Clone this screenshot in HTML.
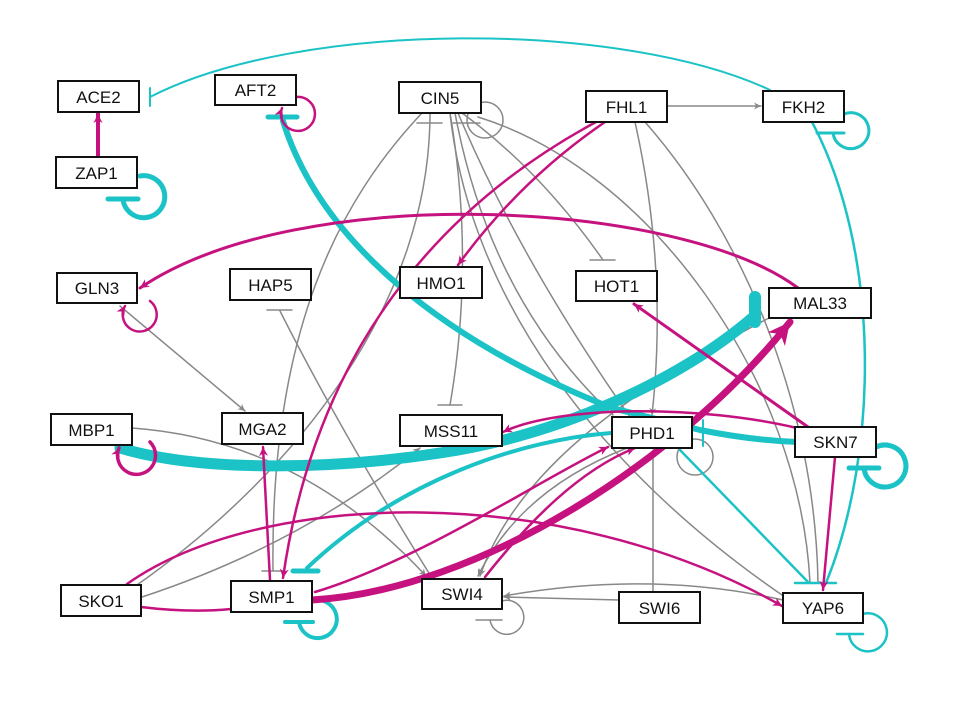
<!DOCTYPE html>
<html><head><meta charset="utf-8"><style>
html,body{margin:0;padding:0;background:#fff;}
svg{display:block;}
text{font-family:"Liberation Sans",Arial,sans-serif;font-size:17px;fill:#111;}
</style></head><body>
<svg width="960" height="720" viewBox="0 0 960 720" xmlns="http://www.w3.org/2000/svg">
<defs>
<marker id="ag" viewBox="0 0 10 10" refX="10" refY="5" markerWidth="10" markerHeight="7" markerUnits="userSpaceOnUse" orient="auto"><path d="M0,0 L10,5 L0,10 L3,5z" fill="#888"/></marker>
<marker id="am" viewBox="0 0 10 10" refX="10" refY="5" markerWidth="12" markerHeight="9" markerUnits="userSpaceOnUse" orient="auto"><path d="M0,0 L10,5 L0,10 L3,5z" fill="#c5127f"/></marker>
<marker id="amb" viewBox="0 0 10 10" refX="10" refY="5" markerWidth="26" markerHeight="22" markerUnits="userSpaceOnUse" orient="auto"><path d="M0,0 L10,5 L0,10 L3,5z" fill="#c5127f"/></marker>
</defs>
<g fill="none" stroke-linecap="round">
<!-- gray edges -->
<g stroke="#888" stroke-width="1.5">
<path d="M667,106 L761,106" marker-end="url(#ag)"/>
<circle cx="485" cy="120" r="18"/>
<circle cx="695" cy="457" r="18"/>
<path d="M120,306 L245,411" marker-end="url(#ag)"/>
<path d="M432,578 Q340,430 280,311"/>
<line x1="267" y1="310" x2="292" y2="310"/>
<path d="M132,428 Q300,440 426,576" marker-end="url(#ag)"/>
<path d="M422,113 C340,200 270,330 273,571"/>
<line x1="262" y1="571" x2="284" y2="571"/>
<path d="M430,113 C430,300 300,470 137,585"/>
<path d="M450,113 Q475,260 450,405"/>
<line x1="438" y1="405" x2="462" y2="405"/>
<path d="M462,113 Q540,170 603,260"/>
<line x1="590" y1="260" x2="615" y2="260"/>
<path d="M455,113 Q490,300 613,415"/>
<path d="M458,113 Q520,260 630,417"/>
<path d="M450,113 C470,300 600,470 782,595"/>
<path d="M478,117 C650,170 800,380 810,583"/>
<path d="M635,122 Q668,270 652,415" marker-end="url(#ag)"/>
<path d="M645,122 C740,230 815,400 818,583"/>
<line x1="417" y1="123" x2="442" y2="123"/>
<line x1="453" y1="123" x2="480" y2="123"/>
<path d="M769,318 C650,380 520,460 480,576" marker-end="url(#ag)"/>
<path d="M627,448 Q520,490 478,576" marker-end="url(#ag)"/>
<path d="M653,592 L653,450" marker-end="url(#ag)"/>
<path d="M619,600 L504,597" marker-end="url(#ag)"/>
<path d="M783,600 Q650,570 504,596" marker-end="url(#ag)"/>
<path d="M502,601 A17,17 0 1 1 490,620"/>
<line x1="476" y1="620" x2="502" y2="620"/>
<path d="M142,597 Q300,545 420,448" marker-end="url(#ag)"/>
</g>
<!-- cyan edges -->
<g stroke="#1cc3c6">
<path d="M770,90 C620,20 300,20 150,97" stroke-width="2"/>
<line x1="150" y1="88" x2="150" y2="106" stroke-width="2"/>
<path d="M812,122 C880,250 880,450 826,583" stroke-width="2.5"/>
<path d="M680,450 L808,582" stroke-width="2.5"/>
<line x1="795" y1="583" x2="836" y2="583" stroke-width="2.5"/>
<path d="M844,114 A18,18 0 1 1 833,133" stroke-width="3"/>
<line x1="817" y1="133" x2="844" y2="133" stroke-width="3"/>
<path d="M140,176 A21,21 0 1 1 123,200" stroke-width="5"/>
<line x1="108" y1="199" x2="138" y2="199" stroke-width="5"/>
<path d="M283,121 C320,240 440,340 612,408 L700,430 C740,438 770,441 797,442" stroke-width="6"/>
<line x1="268" y1="117" x2="297" y2="117" stroke-width="5"/>
<line x1="703" y1="420" x2="703" y2="446" stroke-width="2"/>
<path d="M120,448 C200,472 330,470 440,453 C560,435 680,380 752,318" stroke-width="11"/>
<line x1="755" y1="297" x2="755" y2="322" stroke-width="12"/>
<path d="M611,433 C520,440 400,480 307,568" stroke-width="4"/>
<line x1="293" y1="571" x2="318" y2="571" stroke-width="5"/>
<path d="M312,601 A19,19 0 1 1 299,622" stroke-width="4"/>
<line x1="285" y1="622" x2="313" y2="622" stroke-width="4"/>
<path d="M876,447 A21,21 0 1 1 864,468" stroke-width="5"/>
<line x1="849" y1="468" x2="879" y2="468" stroke-width="5"/>
<path d="M863,614 A19,19 0 1 1 849,634" stroke-width="2.5"/>
<line x1="837" y1="634" x2="863" y2="634" stroke-width="2.5"/>
</g>
<!-- magenta edges -->
<g stroke="#c5127f">
<path d="M98,157 L98,114" stroke-width="4" marker-end="url(#am)"/>
<path d="M296,97 A17,17 0 1 1 282,108" stroke-width="2.5" marker-end="url(#am)"/>
<path d="M798,288 C680,200 300,180 140,288" stroke-width="3" marker-end="url(#am)"/>
<path d="M150,301 A17,17 0 1 1 125,306" stroke-width="2.5" marker-end="url(#am)"/>
<path d="M150,442 A19,19 0 1 1 119,448" stroke-width="3.5" marker-end="url(#am)"/>
<path d="M605,122 Q520,180 458,265" stroke-width="2.5" marker-end="url(#am)"/>
<path d="M596,122 C470,190 320,320 283,578" stroke-width="2.5" marker-end="url(#am)"/>
<path d="M270,580 L263,447" stroke-width="2.5" marker-end="url(#am)"/>
<path d="M127,584 C260,490 560,480 782,606" stroke-width="2.5" marker-end="url(#am)"/>
<path d="M141,607 Q190,613 231,609" stroke-width="2.5"/>
<path d="M312,600 C480,590 680,460 790,322" stroke-width="7" marker-end="url(#amb)"/>
<path d="M808,427 L634,304" stroke-width="3" marker-end="url(#am)"/>
<path d="M797,428 C700,405 560,405 503,432" stroke-width="2.5" marker-end="url(#am)"/>
<path d="M835,457 L823,590" stroke-width="2.5" marker-end="url(#am)"/>
<path d="M485,577 C530,520 580,470 635,448" stroke-width="2.5" marker-end="url(#am)"/>
<path d="M315,592 C420,560 540,480 608,447" stroke-width="2.5" marker-end="url(#am)"/>
</g>
</g>
<!-- nodes -->
<g fill="#fff" stroke="#111" stroke-width="2">
<rect x="58" y="81" width="81" height="31"/>
<rect x="215" y="75" width="81" height="30"/>
<rect x="56" y="157" width="81" height="31"/>
<rect x="57" y="273" width="80" height="30"/>
<rect x="230" y="269" width="81" height="31"/>
<rect x="399" y="82" width="82" height="31"/>
<rect x="586" y="91" width="81" height="31"/>
<rect x="763" y="91" width="81" height="31"/>
<rect x="400" y="267" width="82" height="31"/>
<rect x="576" y="271" width="81" height="30"/>
<rect x="769" y="288" width="102" height="30"/>
<rect x="51" y="414" width="81" height="31"/>
<rect x="222" y="413" width="81" height="31"/>
<rect x="400" y="415" width="102" height="31"/>
<rect x="612" y="417" width="80" height="31"/>
<rect x="795" y="427" width="81" height="30"/>
<rect x="61" y="585" width="80" height="31"/>
<rect x="231" y="581" width="81" height="31"/>
<rect x="422" y="579" width="80" height="30"/>
<rect x="619" y="592" width="81" height="31"/>
<rect x="783" y="593" width="80" height="30"/>
</g>
<g text-anchor="middle">
<text x="98.5" y="103">ACE2</text>
<text x="255.5" y="96">AFT2</text>
<text x="96.5" y="179">ZAP1</text>
<text x="97" y="294">GLN3</text>
<text x="270.5" y="291">HAP5</text>
<text x="440" y="104">CIN5</text>
<text x="626.5" y="113">FHL1</text>
<text x="803.5" y="113">FKH2</text>
<text x="441" y="289">HMO1</text>
<text x="616.5" y="292">HOT1</text>
<text x="820" y="309">MAL33</text>
<text x="91.5" y="436">MBP1</text>
<text x="262.5" y="435">MGA2</text>
<text x="451" y="437">MSS11</text>
<text x="652" y="439">PHD1</text>
<text x="835.5" y="448">SKN7</text>
<text x="101" y="607">SKO1</text>
<text x="271.5" y="603">SMP1</text>
<text x="462" y="600">SWI4</text>
<text x="659.5" y="614">SWI6</text>
<text x="823" y="614">YAP6</text>
</g>
</svg>
</body></html>
